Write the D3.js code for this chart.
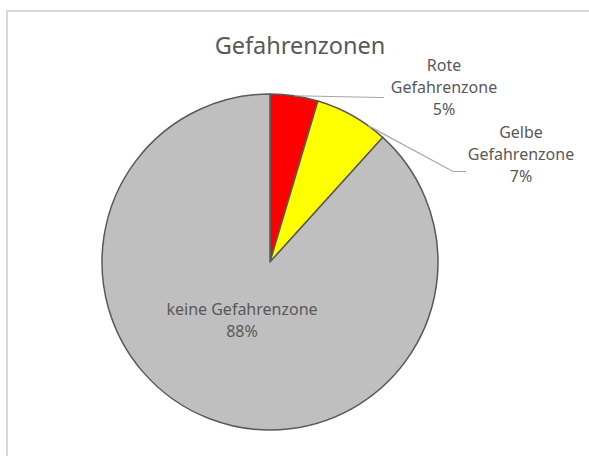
<!DOCTYPE html>
<html>
<head>
<meta charset="utf-8">
<script src="https://cdn.jsdelivr.net/npm/d3@7"></script>
<style>
  body { margin: 0; background: #fff; }
  text { font-family: "Noto Sans", "Open Sans", sans-serif; fill: #595959; }
</style>
</head>
<body>
<div class="container"></div>
<script>
const categories = ["Rote Gefahrenzone", "Gelbe Gefahrenzone", "keine Gefahrenzone"];
const values = [4.6, 7.1, 88.3];
const percentLabels = ["5%", "7%", "88%"];
const sliceColors = ["#ff0000", "#ffff00", "#bfbfbf"];

const width = 589, height = 456;
const cx = 270, cy = 262, radius = 168;

// label layout (label centre, first baseline, leader elbow, where on the arc the leader starts)
const labelLayout = [
  { x: 444, y: 71, lines: ["Rote", "Gefahrenzone"], elbow: [381, 97.5], end: [384, 97.5], at: 0.5 },
  { x: 521, y: 138, lines: ["Gelbe", "Gefahrenzone"], elbow: [453, 171.5], end: [466, 171.5], at: 0.75 },
  { x: 242, y: 315, lines: ["keine Gefahrenzone"], inside: true }
];

const svg = d3.select(".container")
  .append("svg")
  .attr("width", width)
  .attr("height", height);

// chart frame
svg.append("rect")
  .attr("x", 7)
  .attr("y", 11)
  .attr("width", 700)
  .attr("height", 600)
  .attr("fill", "none")
  .attr("stroke", "#d9d9d9")
  .attr("stroke-width", 2);

svg.append("text")
  .attr("x", 300)
  .attr("y", 54)
  .attr("text-anchor", "middle")
  .style("font-size", "23.5px")
  .text("Gefahrenzonen");

const data = categories.map((c, i) => ({ name: c, value: values[i], pct: percentLabels[i], color: sliceColors[i] }));

const pie = d3.pie().sort(null).value(d => d.value);
const arc = d3.arc().innerRadius(0).outerRadius(radius);
const arcs = pie(data);

const g = svg.append("g").attr("transform", `translate(${cx},${cy})`);

g.selectAll("path")
  .data(arcs)
  .enter()
  .append("path")
  .attr("d", arc)
  .attr("fill", d => d.data.color)
  .attr("stroke", "#595959")
  .attr("stroke-width", 1.5)
  .attr("stroke-linejoin", "round");

// leader lines for the small slices
arcs.forEach((d, i) => {
  const lay = labelLayout[i];
  if (lay.inside) return;
  const a = d.startAngle + (d.endAngle - d.startAngle) * lay.at;
  const p0 = [cx + Math.sin(a) * radius, cy - Math.cos(a) * radius];
  svg.append("polyline")
    .attr("points", [p0, lay.elbow, lay.end].map(p => p.join(",")).join(" "))
    .attr("fill", "none")
    .attr("stroke", "#a6a6a6")
    .attr("stroke-width", 1.2);
});

// labels
arcs.forEach((d, i) => {
  const lay = labelLayout[i];
  const t = svg.append("text")
    .attr("text-anchor", "middle")
    .style("font-size", "16px");
  const lines = lay.lines.concat([d.data.pct]);
  lines.forEach((ln, k) => {
    t.append("tspan")
      .attr("x", lay.x)
      .attr("y", lay.y + k * 22)
      .text(ln);
  });
});
</script>
</body>
</html>
